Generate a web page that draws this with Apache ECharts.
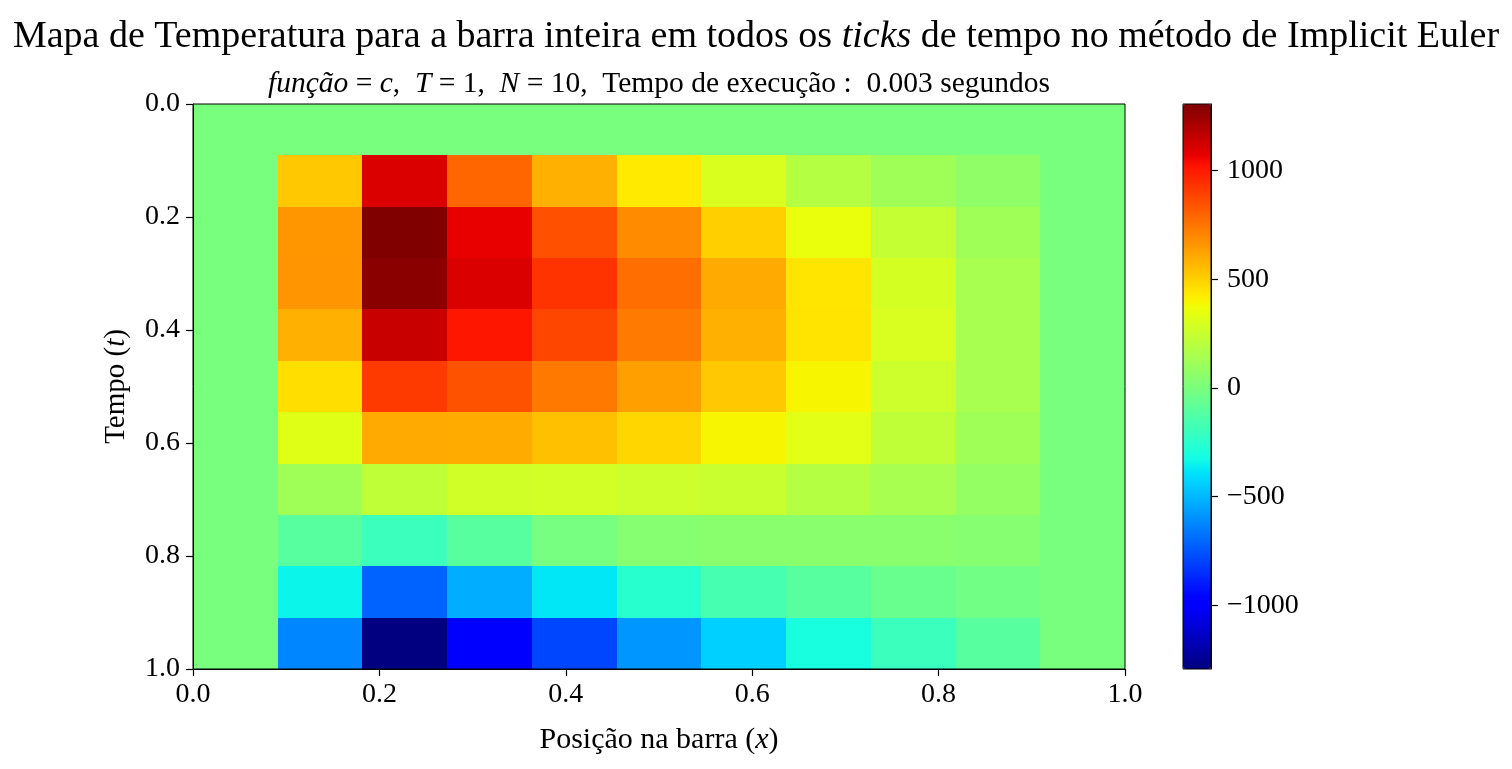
<!DOCTYPE html>
<html>
<head>
<meta charset="utf-8">
<script src="https://cdn.jsdelivr.net/npm/echarts@6/dist/echarts.min.js"></script>
<style>
html,body{margin:0;padding:0;background:#fff;}
#chart{width:1512px;height:769px;}
</style>
</head>
<body>
<div id="chart"></div>
<script>
// ---------------- data ----------------
const xTickValues = [0, 0.2, 0.4, 0.6, 0.8, 1.0];
const tTickValues = [0, 0.2, 0.4, 0.6, 0.8, 1.0];
const colorbarTicks = [-1000, -500, 0, 500, 1000];
const nCells = 11;            // cells per axis (x and t)
const tempMin = -1293;
const tempMax = 1307;

// temperature per time step (rows, t index 0..10), per position (x index 0..10)
const temp_t0  = [0, 0, 0, 0, 0, 0, 0, 0, 0, 0, 0];
const temp_t1  = [0, 522, 1104, 792, 588, 428, 303, 189, 121, 72, 0];
const temp_t2  = [0, 660, 1307, 1073, 852, 688, 504, 358, 236, 121, 0];
const temp_t3  = [0, 662, 1284, 1104, 933, 771, 605, 441, 288, 147, 0];
const temp_t4  = [0, 588, 1145, 1013, 880, 737, 588, 446, 300, 147, 0];
const temp_t5  = [0, 462, 914, 848, 743, 633, 522, 400, 262, 147, 0];
const temp_t6  = [0, 324, 605, 603, 545, 483, 400, 332, 223, 121, 0];
const temp_t7  = [0, 121, 223, 274, 280, 262, 249, 189, 147, 85, 0];
const temp_t8  = [0, -104, -201, -102, -10, 41, 52, 52, 48, 41, 0];
const temp_t9  = [0, -344, -718, -526, -378, -256, -162, -104, -53, -22, 0];
const temp_t10 = [0, -627, -1293, -986, -789, -586, -438, -308, -201, -104, 0];

const tempRows = [temp_t0, temp_t1, temp_t2, temp_t3, temp_t4, temp_t5,
                  temp_t6, temp_t7, temp_t8, temp_t9, temp_t10];

// ---------------- jet colormap (matplotlib segment data) ----------------
function interp(segs, f) {
  for (let k = 0; k < segs.length - 1; k++) {
    const a = segs[k], b = segs[k + 1];
    if (f >= a[0] && f <= b[0]) {
      return a[1] + (b[1] - a[1]) * (f - a[0]) / (b[0] - a[0]);
    }
  }
  return segs[segs.length - 1][1];
}
const jetR = [[0, 0], [0.35, 0], [0.66, 1], [0.89, 1], [1, 0.5]];
const jetG = [[0, 0], [0.125, 0], [0.375, 1], [0.64, 1], [0.91, 0], [1, 0]];
const jetB = [[0, 0.5], [0.11, 1], [0.34, 1], [0.65, 0], [1, 0]];
function jet(f) {
  const r = Math.round(255 * interp(jetR, f));
  const g = Math.round(255 * interp(jetG, f));
  const b = Math.round(255 * interp(jetB, f));
  return 'rgb(' + r + ',' + g + ',' + b + ')';
}
const jetColors = [];
for (let k = 0; k <= 200; k++) jetColors.push(jet(k / 200));

// ---------------- build cells ----------------
const cells = [];
tempRows.forEach((row, j) => {
  row.forEach((v, i) => {
    cells.push([i / nCells, j / nCells, (i + 1) / nCells, (j + 1) / nCells, v]);
  });
});

const FONT = 'Liberation Serif';
const BLACK = '#000';

const chart = echarts.init(document.getElementById('chart'), null, {renderer: 'canvas'});

const option = {
  backgroundColor: '#fff',
  animation: false,
  title: [
    {
      text: 'Mapa de Temperatura para a barra inteira em todos os {i|ticks} de tempo no método de Implicit Euler',
      left: 756, textAlign: 'center', top: 18, padding: 0,
      textStyle: {
        fontFamily: FONT, fontSize: 38, fontWeight: 'normal', color: BLACK,
        rich: { i: { fontFamily: FONT, fontSize: 38, fontStyle: 'italic', color: BLACK } }
      }
    },
    {
      text: '{i|função} = {i|c},  {i|T} = 1,  {i|N} = 10,  Tempo de execução :  0.003 segundos',
      left: 659, textAlign: 'center', top: 69, padding: 0,
      textStyle: {
        fontFamily: FONT, fontSize: 29.5, fontWeight: 'normal', color: BLACK,
        rich: { i: { fontFamily: FONT, fontSize: 29.5, fontStyle: 'italic', color: BLACK } }
      }
    }
  ],
  grid: [
    { left: 193, top: 104, width: 932, height: 565, show: true, z: 10,
      backgroundColor: 'rgba(0,0,0,0)', borderColor: BLACK, borderWidth: 1,
      outerBoundsMode: 'none', containLabel: false },
    { left: 1183, top: 104, width: 28, height: 565, show: true, z: 10,
      backgroundColor: 'rgba(0,0,0,0)', borderColor: BLACK, borderWidth: 1,
      outerBoundsMode: 'none', containLabel: false }
  ],
  xAxis: [
    {
      type: 'value', gridIndex: 0, min: 0, max: 1, interval: 0.2, position: 'bottom', z: 10,
      axisLine: { show: true, onZero: false, lineStyle: { color: BLACK, width: 1 } },
      axisTick: { show: true, inside: false, length: 7, lineStyle: { color: BLACK, width: 1.2 } },
      axisLabel: { formatter: v => v.toFixed(1), fontFamily: FONT, fontSize: 28, color: BLACK, margin: 12 },
      splitLine: { show: false },
      name: 'Posição na barra ({i|x})', nameLocation: 'middle', nameGap: 56,
      nameTextStyle: {
        fontFamily: FONT, fontSize: 30, color: BLACK,
        rich: { i: { fontFamily: FONT, fontSize: 30, fontStyle: 'italic', color: BLACK } }
      }
    },
    { type: 'value', gridIndex: 1, min: 0, max: 1, show: false }
  ],
  yAxis: [
    {
      type: 'value', gridIndex: 0, min: 0, max: 1, interval: 0.2, inverse: true, position: 'left', z: 10,
      axisLine: { show: true, onZero: false, lineStyle: { color: BLACK, width: 1 } },
      axisTick: { show: true, inside: false, length: 7, lineStyle: { color: BLACK, width: 1.2 } },
      axisLabel: { formatter: v => v.toFixed(1), fontFamily: FONT, fontSize: 28, color: BLACK, margin: 13 },
      splitLine: { show: false },
      name: 'Tempo ({i|t})', nameLocation: 'middle', nameGap: 62,
      nameTextStyle: {
        fontFamily: FONT, fontSize: 29, color: BLACK,
        rich: { i: { fontFamily: FONT, fontSize: 29, fontStyle: 'italic', color: BLACK } }
      }
    },
    {
      type: 'value', gridIndex: 1, min: tempMin, max: tempMax, position: 'right', z: 10,
      axisLine: { show: true, onZero: false, lineStyle: { color: BLACK, width: 1 } },
      axisTick: { show: true, inside: false, length: 7, customValues: colorbarTicks,
                  lineStyle: { color: BLACK, width: 1.2 } },
      axisLabel: { customValues: colorbarTicks,
                   formatter: v => (v < 0 ? '\u2212' + Math.abs(v) : String(v)),
                   fontFamily: FONT, fontSize: 28, color: BLACK, margin: 16 },
      splitLine: { show: false }
    }
  ],
  visualMap: {
    type: 'continuous', seriesIndex: 0, dimension: 4,
    min: tempMin, max: tempMax,
    inRange: { color: jetColors },
    show: true, calculable: false, hoverLink: false, realtime: false,
    left: 1183, top: 104, itemWidth: 28, itemHeight: 565, padding: 0,
    orient: 'vertical', text: null, showLabel: false,
    textStyle: { color: 'rgba(0,0,0,0)' }
  },
  series: [
    {
      type: 'custom', xAxisIndex: 0, yAxisIndex: 0,
      data: cells,
      encode: { x: [0, 2], y: [1, 3] },
      renderItem: function (params, api) {
        const p0 = api.coord([api.value(0), api.value(1)]);
        const p1 = api.coord([api.value(2), api.value(3)]);
        const x0 = Math.round(Math.min(p0[0], p1[0]));
        const x1 = Math.round(Math.max(p0[0], p1[0]));
        const y0 = Math.round(Math.min(p0[1], p1[1]));
        const y1 = Math.round(Math.max(p0[1], p1[1]));
        return {
          type: 'rect',
          shape: { x: x0, y: y0, width: x1 - x0, height: y1 - y0 },
          style: { fill: api.visual('color') }
        };
      }
    }
  ]
};
chart.setOption(option);
</script>
</body>
</html>
